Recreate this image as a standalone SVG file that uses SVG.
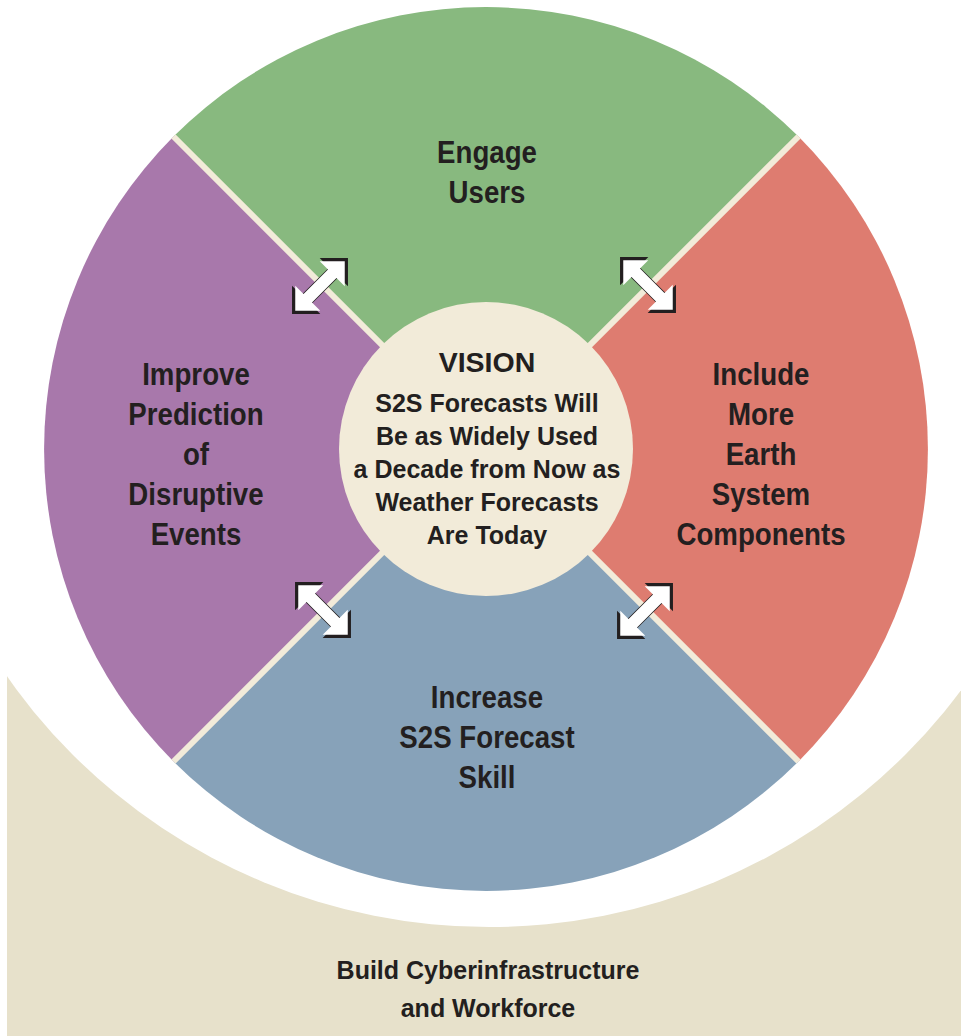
<svg xmlns="http://www.w3.org/2000/svg" xmlns:xlink="http://www.w3.org/1999/xlink" width="961" height="1036" viewBox="0 0 961 1036">
<style>
.lbl{font-family:"Liberation Sans",Arial,sans-serif;font-weight:bold;fill:#231f20;text-anchor:middle}
.big{font-size:32px}
.mid{font-size:25px}
.sep{stroke:#f2ebd9;stroke-width:6;fill:none}
</style>
<defs>
<g id="arrow">
<polygon transform="scale(1.13)" fill="#231f20" points="35,0 17.3,-17.7 17.3,-6 -17.3,-6 -17.3,-17.7 -35,0 -17.3,17.7 -17.3,6 17.3,6 17.3,17.7"/>
<polygon fill="#ffffff" points="35,0 17.3,-17.7 17.3,-6 -17.3,-6 -17.3,-17.7 -35,0 -17.3,17.7 -17.3,6 17.3,6 17.3,17.7"/>
</g>
</defs>
<rect width="961" height="1036" fill="#ffffff"/>
<g id="foundation">
<rect x="7" y="600" width="954" height="436" fill="#e7e1cb"/>
<circle cx="489" cy="338" r="589" fill="#ffffff"/>
<text class="lbl mid" x="488" y="979">Build Cyberinfrastructure</text>
<text class="lbl mid" x="488" y="1017">and Workforce</text>
</g>
<g id="engage-users">
<path d="M486,449 L173.5,136.5 A442,442 0 0 1 798.5,136.5 Z" fill="#88b97f"/>
<g transform="translate(487,0) scale(0.865,1)"><text class="lbl big" x="0" y="163">Engage</text><text class="lbl big" x="0" y="203">Users</text></g>
</g>
<g id="include-components">
<path d="M486,449 L798.5,136.5 A442,442 0 0 1 798.5,761.5 Z" fill="#de7c70"/>
<g transform="translate(761,0) scale(0.865,1)"><text class="lbl big" x="0" y="385">Include</text><text class="lbl big" x="0" y="425">More</text><text class="lbl big" x="0" y="465">Earth</text><text class="lbl big" x="0" y="505">System</text><text class="lbl big" x="0" y="545">Components</text></g>
</g>
<g id="increase-skill">
<path d="M486,449 L798.5,761.5 A442,442 0 0 1 173.5,761.5 Z" fill="#87a2b9"/>
<g transform="translate(487,0) scale(0.865,1)"><text class="lbl big" x="0" y="708">Increase</text><text class="lbl big" x="0" y="748">S2S Forecast</text><text class="lbl big" x="0" y="788">Skill</text></g>
</g>
<g id="improve-prediction">
<path d="M486,449 L173.5,761.5 A442,442 0 0 1 173.5,136.5 Z" fill="#a878ab"/>
<g transform="translate(196,0) scale(0.865,1)"><text class="lbl big" x="0" y="385">Improve</text><text class="lbl big" x="0" y="425">Prediction</text><text class="lbl big" x="0" y="465">of</text><text class="lbl big" x="0" y="505">Disruptive</text><text class="lbl big" x="0" y="545">Events</text></g>
</g>
<g id="dividers">
<line class="sep" x1="173.5" y1="136.5" x2="798.5" y2="761.5"/>
<line class="sep" x1="798.5" y1="136.5" x2="173.5" y2="761.5"/>
</g>
<g id="vision">
<circle cx="486" cy="449" r="147" fill="#f2ebd9"/>
<text class="lbl" style="font-size:28.5px" x="487" y="372">VISION</text>
<text class="lbl mid" x="487" y="412">S2S Forecasts Will</text>
<text class="lbl mid" x="487" y="445">Be as Widely Used</text>
<text class="lbl mid" x="487" y="478">a Decade from Now as</text>
<text class="lbl mid" x="487" y="511">Weather Forecasts</text>
<text class="lbl mid" x="487" y="544">Are Today</text>
</g>
<g id="connectors">
<use xlink:href="#arrow" transform="translate(320,286) rotate(-45)"/>
<use xlink:href="#arrow" transform="translate(648,285) rotate(45)"/>
<use xlink:href="#arrow" transform="translate(323,610) rotate(45)"/>
<use xlink:href="#arrow" transform="translate(645,611) rotate(-45)"/>
</g>
</svg>
